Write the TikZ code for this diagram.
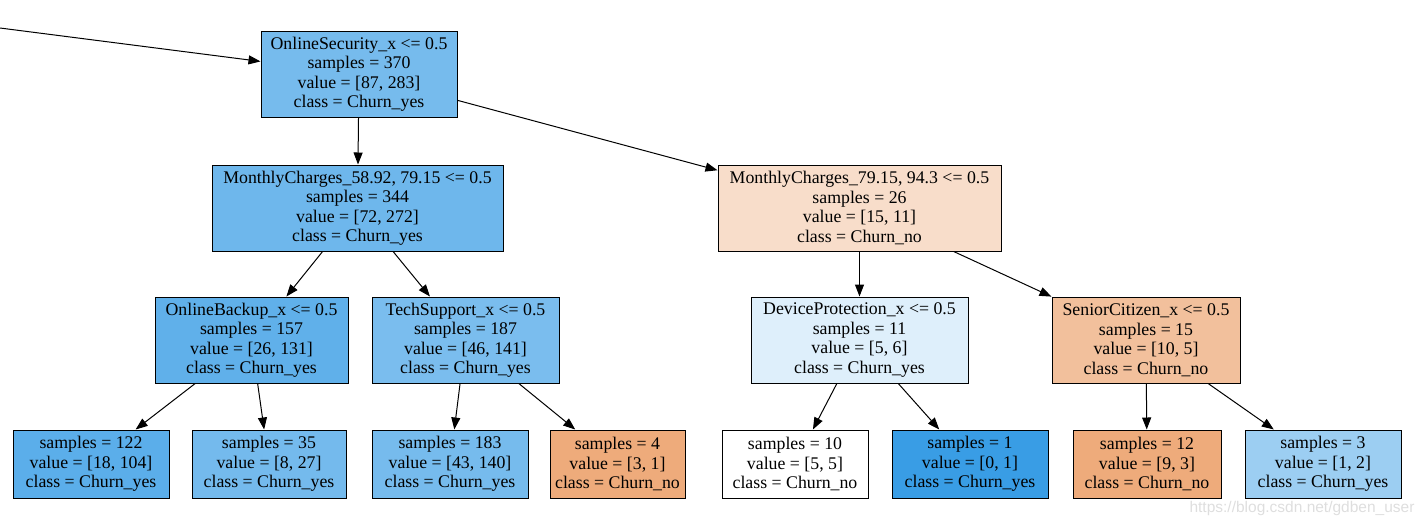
\documentclass[tikz,border=0pt]{standalone}
\usepackage{fontspec}
\setmainfont{Liberation Serif}
\newfontfamily\wmfont{Liberation Sans}
\usetikzlibrary{arrows.meta}
\definecolor{cRoot}{RGB}{118,187,237}
\definecolor{cMCa}{RGB}{110,183,236}
\definecolor{cMCb}{RGB}{248,221,202}
\definecolor{cOB}{RGB}{96,176,234}
\definecolor{cTS}{RGB}{122,189,238}
\definecolor{cDP}{RGB}{222,239,251}
\definecolor{cSC}{RGB}{242,192,156}
\definecolor{cLa}{RGB}{91,174,234}
\definecolor{cLb}{RGB}{116,186,237}
\definecolor{cLc}{RGB}{118,187,237}
\definecolor{cLd}{RGB}{238,171,123}
\definecolor{cLe}{RGB}{255,255,255}
\definecolor{cLf}{RGB}{57,157,229}
\definecolor{cLg}{RGB}{238,171,123}
\definecolor{cLh}{RGB}{156,206,242}
\tikzset{
	split/.style={draw=black,line width=1pt,align=center,minimum height=86pt,inner sep=0pt,font=\fontsize{17.8}{19.5}\selectfont},
	leaf/.style={split,minimum height=68pt},
	edge/.style={line width=1pt,-{Triangle[length=12pt,width=9pt]}}
}
\begin{document}
\begin{tikzpicture}[x=1pt,y=-1pt]
			\useasboundingbox (0,0) rectangle (1427,523);
			\coordinate (parent) at (0,28);
			\node[split,fill=cRoot,minimum width=196pt] (root) at (359,74) {OnlineSecurity\_x <= 0.5\\samples = 370\\value = [87, 283]\\class = Churn\_yes};
			\node[split,fill=cMCa,minimum width=291pt] (mcLow) at (357.5,208) {MonthlyCharges\_58.92, 79.15 <= 0.5\\samples = 344\\value = [72, 272]\\class = Churn\_yes};
			\node[split,fill=cMCb,minimum width=283pt] (mcHigh) at (859.5,208) {MonthlyCharges\_79.15, 94.3 <= 0.5\\samples = 26\\value = [15, 11]\\class = Churn\_no};
			\node[split,fill=cOB,minimum width=193pt] (backup) at (251.5,340) {OnlineBackup\_x <= 0.5\\samples = 157\\value = [26, 131]\\class = Churn\_yes};
			\node[split,fill=cTS,minimum width=187pt] (support) at (465.5,340) {TechSupport\_x <= 0.5\\samples = 187\\value = [46, 141]\\class = Churn\_yes};
			\node[split,fill=cDP,minimum width=217pt] (device) at (859.5,340) {DeviceProtection\_x <= 0.5\\samples = 11\\value = [5, 6]\\class = Churn\_yes};
			\node[split,fill=cSC,minimum width=188pt] (senior) at (1146,340) {SeniorCitizen\_x <= 0.5\\samples = 15\\value = [10, 5]\\class = Churn\_no};

			\node[leaf,fill=cLa,minimum width=156pt] (leafA) at (91,464) {samples = 122\\value = [18, 104]\\class = Churn\_yes};
			\node[leaf,fill=cLb,minimum width=154pt] (leafB) at (269,464) {samples = 35\\value = [8, 27]\\class = Churn\_yes};
			\node[leaf,fill=cLc,minimum width=156pt] (leafC) at (450,464) {samples = 183\\value = [43, 140]\\class = Churn\_yes};
			\node[leaf,fill=cLd,minimum width=135pt] (leafD) at (617.5,464) {samples = 4\\value = [3, 1]\\class = Churn\_no};
			\node[leaf,fill=cLe,minimum width=146pt] (leafE) at (795,464) {samples = 10\\value = [5, 5]\\class = Churn\_no};
			\node[leaf,fill=cLf,minimum width=156pt] (leafF) at (970,464) {samples = 1\\value = [0, 1]\\class = Churn\_yes};
			\node[leaf,fill=cLg,minimum width=148pt] (leafG) at (1147,464) {samples = 12\\value = [9, 3]\\class = Churn\_no};
			\node[leaf,fill=cLh,minimum width=156pt] (leafH) at (1323,464) {samples = 3\\value = [1, 2]\\class = Churn\_yes};

			\draw[edge] (parent) -- (root);
			\draw[edge] (root) -- (mcLow);
			\draw[edge] (root) -- (mcHigh);
			\draw[edge] (mcLow) -- (backup);
			\draw[edge] (mcLow) -- (support);
			\draw[edge] (mcHigh) -- (device);
			\draw[edge] (mcHigh) -- (senior);
			\draw[edge] (backup) -- (leafA);
			\draw[edge] (backup) -- (leafB);
			\draw[edge] (support) -- (leafC);
			\draw[edge] (support) -- (leafD);
			\draw[edge] (device) -- (leafE);
			\draw[edge] (device) -- (leafF);
			\draw[edge] (senior) -- (leafG);
			\draw[edge] (senior) -- (leafH);

			\node[text=black!13,font=\wmfont\fontsize{15.5}{17}\selectfont,anchor=east] (mark) at (1418,508) {https://blog.csdn.net/gdben\_user};
\end{tikzpicture}
\end{document}
